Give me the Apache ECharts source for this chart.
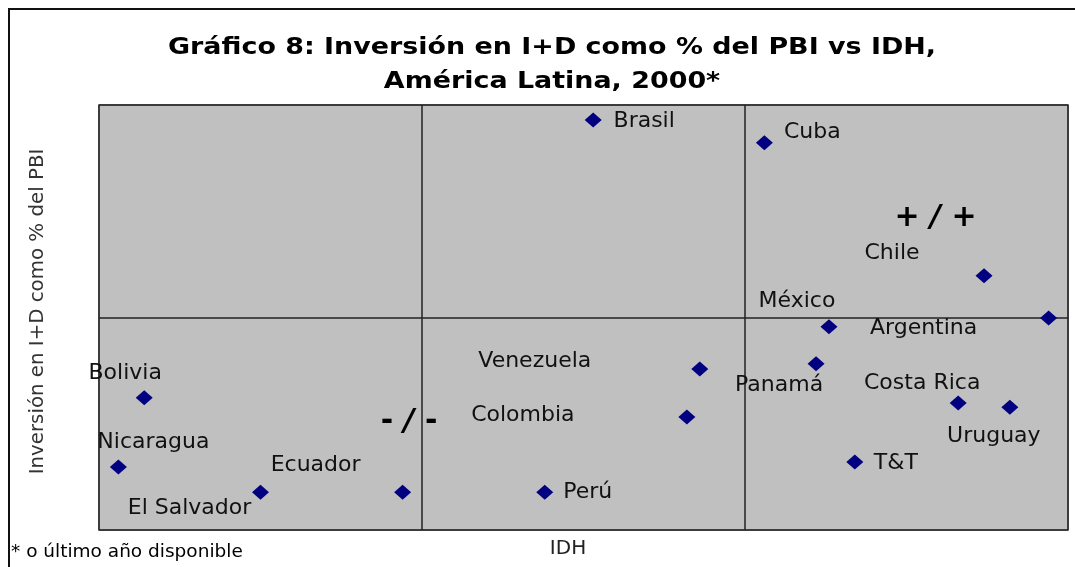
<!DOCTYPE html>
<html>
<head>
<meta charset="utf-8">
<script src="https://cdn.jsdelivr.net/npm/echarts@6/dist/echarts.min.js"></script>
<style>
html,body{margin:0;padding:0;background:#fff;}
#chart{width:1075px;height:567px;}
</style>
</head>
<body>
<div id="chart"></div>
<script>
// ---- data ----
const countries = ['Brasil','Cuba','Chile','Argentina','México','Panamá','Venezuela','Colombia',
  'Costa Rica','Uruguay','T&T','Perú','Ecuador','El Salvador','Bolivia','Nicaragua'];
const idh = [0.753,0.806,0.874,0.894,0.826,0.822,0.786,0.782,0.866,0.882,0.834,0.738,0.694,0.650,0.614,0.606];
const rdPct = [0.965,0.911,0.598,0.499,0.478,0.391,0.379,0.266,0.299,0.289,0.160,0.089,0.089,0.089,0.311,0.148];
const quadrantNames = ['{p|+} {s|/} {p|+}','{p|-} {s|/} {p|-}'];
const quadrantIdh = [0.859,0.696];
const quadrantRd = [0.734,0.254];
const titleLines = ['Gráfico 8: Inversión en I+D como % del PBI vs IDH,','América Latina, 2000*'];
const footnote = '* o último año disponible';

// ---- label placement (style, pixels relative to point) ----
const labelOffsets = [[51,1],[48,-11],[-92,-23],[-125,10],[-32,-26],[-37,21],[-165,-8],[-164,-2],
  [-36,-20],[-16,29],[41,1],[43,0],[-87,-27],[-71,16],[-19,-25],[35,-25]];

const chart = echarts.init(document.getElementById('chart'), null, {renderer:'canvas'});
const FONT = 'DejaVu Sans';

const pointData = countries.map((c,i)=>({
  name:c, value:[idh[i], rdPct[i]],
  label:{offset:labelOffsets[i]}
}));
const quadData = quadrantNames.map((q,i)=>({
  name:q, value:[quadrantIdh[i], quadrantRd[i]]
}));

chart.setOption({
  backgroundColor:'#ffffff',
  animation:false,
  title:[{
    text:footnote,
    left:11, top:543, padding:0,
    textStyle:{fontFamily:FONT, fontWeight:'normal', fontSize:18.5, color:'#000'}
  }],
  graphic:[{
    type:'rect', silent:true, z:-1,
    shape:{x:9, y:9, width:1100, height:600},
    style:{fill:'none', stroke:'#111', lineWidth:2}
  },{
    type:'text', silent:true, x:552, y:31, scaleX:1.17,
    style:{text:titleLines.join('\n'), fontFamily:FONT, fontWeight:'bold', fontSize:23,
      lineHeight:34, align:'center', verticalAlign:'top', fill:'#000'}
  }],
  grid:{left:99, top:105, right:7, bottom:37, show:true,
    backgroundColor:'#c0c0c0', borderColor:'#8a8a8a', borderWidth:2},
  xAxis:{
    type:'value', min:0.6, max:0.9, interval:0.1,
    name:'IDH', nameLocation:'middle', nameGap:9,
    nameTextStyle:{fontFamily:FONT, fontSize:20, color:'#222', padding:[0,31,0,0], verticalAlign:'top'},
    axisLine:{show:false}, axisTick:{show:false}, axisLabel:{show:false},
    splitLine:{show:true, lineStyle:{color:'#222', width:1.5}}
  },
  yAxis:{
    type:'value', min:0, max:1, interval:0.5,
    name:'Inversión en I+D como % del PBI', nameLocation:'middle', nameGap:51,
    nameTextStyle:{fontFamily:FONT, fontSize:19.8, color:'#333', padding:[0,0,0,12]},
    axisLine:{show:false}, axisTick:{show:false}, axisLabel:{show:false},
    splitLine:{show:true, lineStyle:{color:'#222', width:1.5}}
  },
  series:[{
    type:'scatter', symbol:'diamond', symbolSize:[17,15],
    itemStyle:{color:'#000080', opacity:1},
    label:{show:true, position:'inside', formatter:'{b}',
      fontFamily:FONT, fontSize:22, color:'#111'},
    data:pointData
  },{
    type:'scatter', symbol:'circle', symbolSize:1,
    itemStyle:{color:'rgba(0,0,0,0)', opacity:1},
    label:{show:true, position:'inside', formatter:'{b}',
      rich:{
        p:{fontFamily:FONT, fontSize:30, fontWeight:'bold', color:'#000'},
        s:{fontFamily:FONT, fontSize:30, fontWeight:'bold', fontStyle:'italic', color:'#000'}
      },
      fontFamily:FONT, fontSize:30, fontWeight:'bold', color:'#000'},
    data:quadData
  }]
});
</script>
</body>
</html>
